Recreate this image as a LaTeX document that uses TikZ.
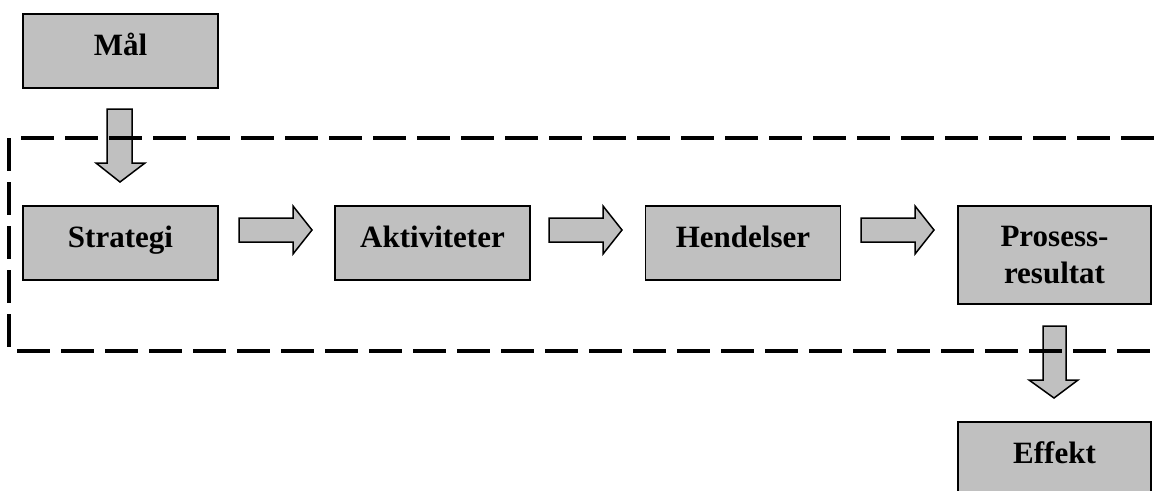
\documentclass[tikz,border=0pt]{standalone}
\usepackage{fontspec}
\setmainfont{Liberation Serif}
\usetikzlibrary{calc}
\definecolor{boxgray}{HTML}{C0C0C0}
\tikzset{
  box/.style={draw=black, line width=1.5pt, fill=boxgray, minimum width=195pt, minimum height=74pt,
    inner sep=0pt, font=\fontsize{31}{37}\selectfont\bfseries},
  oneline/.style={text height=21pt, text depth=13pt},
  blockarrow/.style={draw=black, line width=1.5pt, fill=boxgray, line join=miter},
  frame/.style={line width=4.5pt, dash pattern=on 33pt off 11pt}
}
\begin{document}
\begin{tikzpicture}[x=1pt,y=-1pt]
\useasboundingbox (0,0) rectangle (1154,490);
% boxes
\node[box,oneline] (maal) at (120.5,51) {Mål};
\node[box,oneline] (strategi) at (120.5,243) {Strategi};
\node[box,oneline] (aktiviteter) at (432.5,243) {Aktiviteter};
\node[box,oneline] (hendelser) at (743,243) {Hendelser};
\node[box,minimum width=193pt,minimum height=98pt,align=center] (prosess) at (1054.5,255) {Prosess-\\resultat};
\node[box,oneline,minimum width=193pt] (effekt) at (1054.5,459) {Effekt};
% down arrow Mål -> Strategi
\draw[blockarrow] (107,109) -- (132,109) -- (132,163) -- (145,163) -- (120,182) -- (96,163) -- (107,163) -- cycle;
% right arrows
\draw[blockarrow] (239,218) -- (293,218) -- (293,206) -- (312,230) -- (293,254) -- (293,242) -- (239,242) -- cycle;
\draw[blockarrow] (549,218) -- (603,218) -- (603,206) -- (622,230) -- (603,254) -- (603,242) -- (549,242) -- cycle;
\draw[blockarrow] (861,218) -- (915,218) -- (915,206) -- (934,230) -- (915,254) -- (915,242) -- (861,242) -- cycle;
% down arrow Prosessresultat -> Effekt
\draw[blockarrow] (1043,326) -- (1066,326) -- (1066,380) -- (1078,380) -- (1054,398) -- (1029,380) -- (1043,380) -- cycle;
% dashed frame
\draw[frame] (21,138) -- (1160,138);
\draw[frame] (9,138) -- (9,351);
\draw[frame] (17,351) -- (1160,351);
\end{tikzpicture}
\end{document}
